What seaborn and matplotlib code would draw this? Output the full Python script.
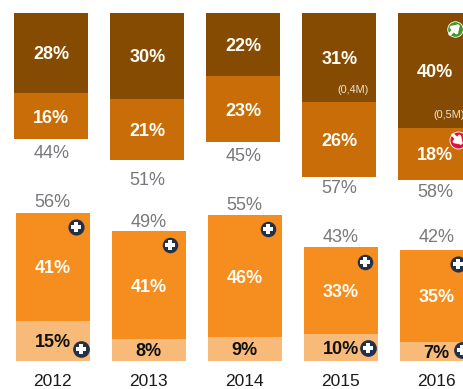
import matplotlib
matplotlib.use("Agg")
import matplotlib.pyplot as plt
import pandas as pd
import seaborn as sns

years = ["2012", "2013", "2014", "2015", "2016"]
upper_dark = [28, 30, 22, 31, 40]
upper_mid = [16, 21, 23, 26, 18]
upper_total = [44, 51, 45, 57, 58]
lower_main = [41, 41, 46, 33, 35]
lower_pale = [15, 8, 9, 10, 7]
lower_total = [56, 49, 55, 43, 42]

DARK = "#864B03"
MID = "#C86D07"
ORANGE = "#F68D1F"
PALE = "#F8BA78"
GREY = "#77787B"
NAVY = "#22304A"
WIDTH_PX, HEIGHT_PX = 464, 389
STEP_PX = 96
BAR_FRACTION = 74 / STEP_PX

sns.set_theme(style="white")
plt.rcParams["font.family"] = ["Liberation Sans", "DejaVu Sans"]

fig = plt.figure(figsize=(WIDTH_PX / 100, HEIGHT_PX / 100), dpi=100, facecolor="white")


def panel(left_px, top_px, bottom_px):
    """Axes placed in pixels, five category steps wide."""
    return fig.add_axes([
        left_px / WIDTH_PX,
        1 - bottom_px / HEIGHT_PX,
        5 * STEP_PX / WIDTH_PX,
        (bottom_px - top_px) / HEIGHT_PX,
    ])


def stacked(ax, frame, outer, inner, outer_color, inner_color):
    """Stack two segments by painting the inner one over the full height."""
    frame = frame.assign(full=frame[outer] + frame[inner])
    sns.barplot(data=frame, x="year", y="full", color=outer_color, saturation=1,
                width=BAR_FRACTION, linewidth=0, ax=ax)
    sns.barplot(data=frame, x="year", y=inner, color=inner_color, saturation=1,
                width=BAR_FRACTION, linewidth=0, ax=ax)
    ax.set_xlim(-0.5, 4.5)
    ax.set_xlabel("")
    ax.set_ylabel("")
    ax.set_yticks([])
    sns.despine(ax=ax, left=True, bottom=True)


def bold(ax, x, y, value, color="#FFFDF5"):
    ax.text(x, y, f"{value}%", ha="center", va="center_baseline", color=color,
            fontsize=13, fontweight="bold")


def total(ax, x, y, value):
    ax.text(x, y, f"{value}%", ha="center", va="center_baseline", color=GREY,
            fontsize=13, clip_on=False)


def arrow_badge(x, y, dx, dy, size, color):
    overlay.scatter(x, y, s=size, color=color, edgecolors="white", linewidths=0.6, zorder=3)
    overlay.annotate("", xy=(x + dx, y + dy), xytext=(x - dx, y - dy), zorder=4,
                     arrowprops=dict(arrowstyle="-|>,head_width=0.3,head_length=0.45",
                                     mutation_scale=9, color="white", lw=2.4,
                                     shrinkA=0, shrinkB=0))


frame = pd.DataFrame({
    "year": years,
    "dark": upper_dark,
    "mid": upper_mid,
    "main": lower_main,
    "pale": lower_pale,
})

# Upper panel hangs from a common top edge
PX_UPPER = 2.885
top_ax = panel(3.25, 12.5, 200)
stacked(top_ax, frame, "mid", "dark", MID, DARK)
top_ax.set_ylim(187.5 / PX_UPPER, 0)
top_ax.set_xticks([])

upper_gap_px = [12, 18.5, 12, 10, 11]
for i, (d, m, t) in enumerate(zip(upper_dark, upper_mid, upper_total)):
    bold(top_ax, i, d / 2, d)
    bold(top_ax, i, d + m / 2, m)
    total(top_ax, i, d + m + upper_gap_px[i] / PX_UPPER, t)

# Lower panel stands on a common baseline
PX_LOWER = 2.64
low_ax = panel(4.5, 200, 360.5)
stacked(low_ax, frame, "main", "pale", ORANGE, PALE)
low_ax.set_ylim(0, 160.5 / PX_LOWER)
low_ax.set_xticks(range(len(years)), years)
low_ax.tick_params(axis="x", length=0, pad=9.5, labelsize=12.5, colors="#1A1A1A")

lower_gap_px = [12, 11, 12, 11, 14]
for i, (m, p, t) in enumerate(zip(lower_main, lower_pale, lower_total)):
    bold(low_ax, i, p + m / 2, m)
    bold(low_ax, i, p / 2, p, color="#111111")
    total(low_ax, i, p + m + lower_gap_px[i] / PX_LOWER, t)

# Pixel-addressed overlay for the small badges and side notes
overlay = fig.add_axes([0, 0, 1, 1], facecolor="none")
overlay.set_xlim(0, WIDTH_PX)
overlay.set_ylim(HEIGHT_PX, 0)
overlay.axis("off")

for x, y, size in [(76, 227, 135), (170, 245, 125), (268, 229, 125),
                   (365, 262, 125), (458, 264, 135), (81, 349, 145),
                   (368, 348, 145), (462, 350, 145)]:
    overlay.scatter(x, y, s=size, color=NAVY, linewidths=0, zorder=3)
    overlay.scatter(x, y, s=size * 0.36, marker="P", color="white", linewidths=0, zorder=4)

arrow_badge(455, 29, 5, -5, 125, "#3F9A1E")
arrow_badge(458, 140, 5, 5, 150, "#E0123C")

overlay.text(353, 90, "(0,4M)", ha="center", va="center", color="#EFE3D3", fontsize=7.8)
overlay.text(449, 115, "(0,5M)", ha="center", va="center", color="#EFE3D3", fontsize=7.8)

fig.savefig("out.png", dpi=100, facecolor="white")
